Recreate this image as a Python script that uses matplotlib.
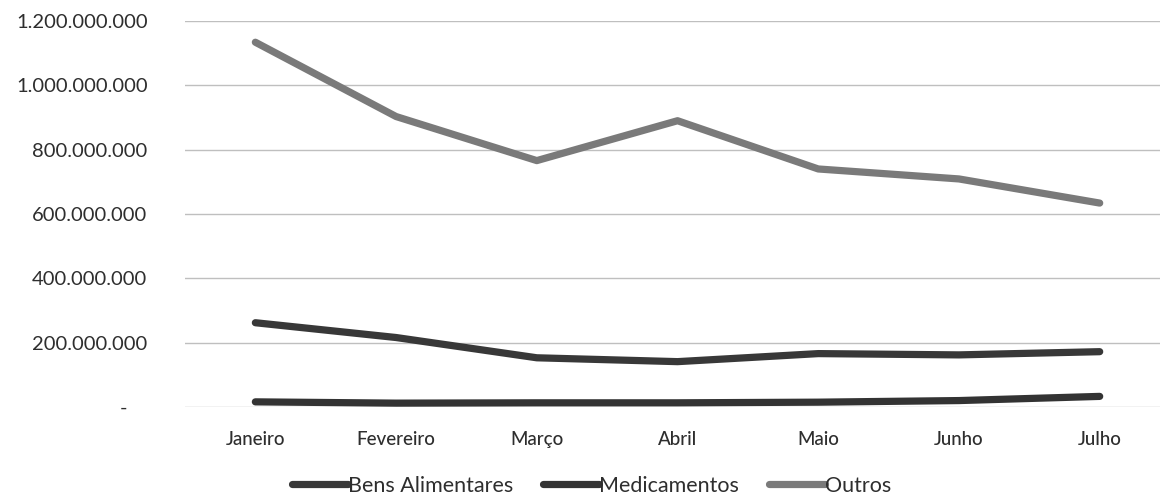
import numpy as np
import matplotlib.pyplot as plt
from matplotlib.ticker import FuncFormatter

meses = ["Janeiro", "Fevereiro", "Março", "Abril", "Maio", "Junho", "Julho"]
bens_alimentares = [262e6, 216e6, 153e6, 141e6, 166e6, 162e6, 172e6]
medicamentos = [16e6, 12e6, 13e6, 13e6, 15e6, 20e6, 33e6]
outros = [1134e6, 903e6, 766e6, 890e6, 740e6, 709e6, 634e6]

plt.rcParams['font.family'] = ['Lato', 'DejaVu Sans']

fig = plt.figure(figsize=(11.6, 4.99), dpi=100)
ax = fig.add_axes([185/1160, 92/499, 975/1160, 386/499])

x = np.arange(len(meses))
ax.plot(x, bens_alimentares, color="#383838", lw=5.2, solid_capstyle="round", label="Bens Alimentares")
ax.plot(x, medicamentos, color="#333333", lw=5.2, solid_capstyle="round", label="Medicamentos")
ax.plot(x, outros, color="#7a7a7a", lw=5.2, solid_capstyle="round", label="Outros")

ax.set_xlim(-0.5, 6 + 60/140)
ax.set_ylim(0, 1.2e9)
ax.set_yticks(np.arange(0, 1.3e9, 2e8))

def fmt(v, pos):
    if v == 0:
        return "-    "
    return f"{int(v):,}".replace(",", ".")

ax.yaxis.set_major_formatter(FuncFormatter(fmt))
ax.set_xticks(x)
ax.set_xticklabels(meses)
ax.tick_params(axis="y", length=0, pad=27, labelsize=14.5, labelcolor="#2e2e2e")
ax.tick_params(axis="x", length=0, pad=17, labelsize=13.5, labelcolor="#2e2e2e")
for t in ax.get_xticklabels():
    t.set_fontweight("medium")
ax.grid(axis="y", color="#bfbfbf", lw=1)
ax.set_axisbelow(True)
for s in ax.spines.values():
    s.set_visible(False)

leg = fig.legend(loc="center", bbox_to_anchor=(0.51, 0.026), ncol=3, frameon=False,
                 prop={"family": ["Liberation Sans Narrow", "Lato"], "size": 15.5},
                 handlelength=2.6, handletextpad=0.0, columnspacing=1.4,
                 borderpad=0.0, borderaxespad=0.0)
for t in leg.get_texts():
    t.set_color("#2e2e2e")

fig.savefig("out.png", dpi=100)
